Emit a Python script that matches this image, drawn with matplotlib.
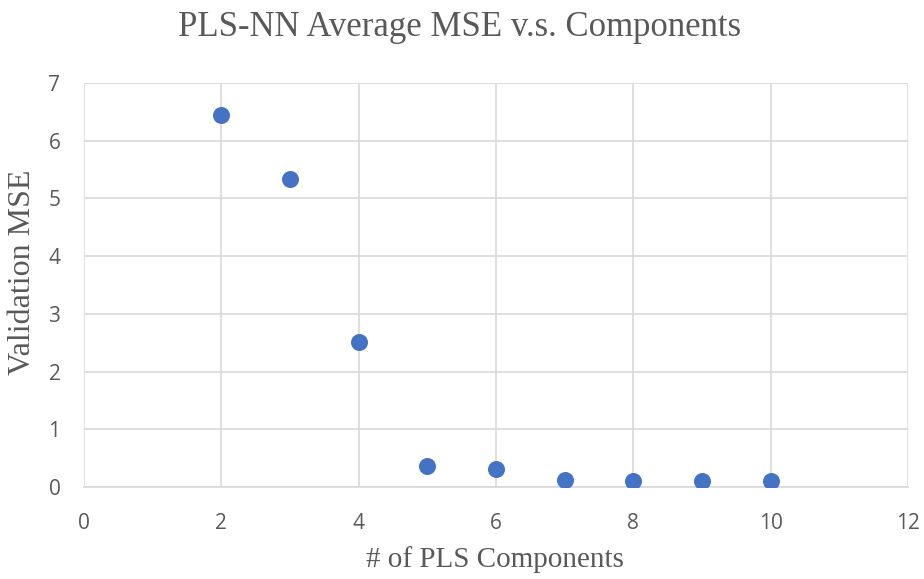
import matplotlib
matplotlib.use("Agg")
import matplotlib.pyplot as plt

components = [2, 3, 4, 5, 6, 7, 8, 9, 10]
val_mse = [6.45, 5.33, 2.51, 0.36, 0.32, 0.12, 0.10, 0.10, 0.11]
x_ticks = [0, 2, 4, 6, 8, 10, 12]
y_ticks = [0, 1, 2, 3, 4, 5, 6, 7]

fig = plt.figure(figsize=(9.24, 5.79), dpi=100)
ax = fig.add_axes([84/924, 1-487/579, (908-84)/924, (487-83)/579])

ax.scatter(components, val_mse, s=150, color="#4472C4", zorder=3, linewidths=0)
ax.set_xlim(0, 12)
ax.set_ylim(0, 7)
ax.set_xticks(x_ticks)
ax.set_yticks(y_ticks)
ax.grid(True, color="#D9D9D9", linewidth=1.2)
ax.set_axisbelow(True)
for s in ["top", "right", "left"]:
    ax.spines[s].set_visible(False)
ax.spines["bottom"].set_color("#D9D9D9")
ax.spines["bottom"].set_linewidth(1.2)
ax.tick_params(axis="x", length=0, labelsize=15, labelcolor="#595959", pad=19)
ax.tick_params(axis="y", length=0, labelsize=15, labelcolor="#595959", pad=17)
for lbl in ax.get_xticklabels() + ax.get_yticklabels():
    lbl.set_fontfamily("Open Sans")

serif = "Liberation Serif"
fig.text(460/924, 1-28/579, "PLS-NN Average MSE v.s. Components", ha="center", va="center",
         fontsize=25, color="#595959", family=serif)
fig.text(0.5 * (368 + 622) / 924, 1-560/579, "# of PLS Components", ha="center", va="center",
         fontsize=21, color="#595959", family=serif)
fig.text(23/924, 1-272/579, "Validation MSE", ha="center", va="center", rotation=90,
         fontsize=23, color="#595959", family=serif)

fig.savefig("out.png", dpi=100)
